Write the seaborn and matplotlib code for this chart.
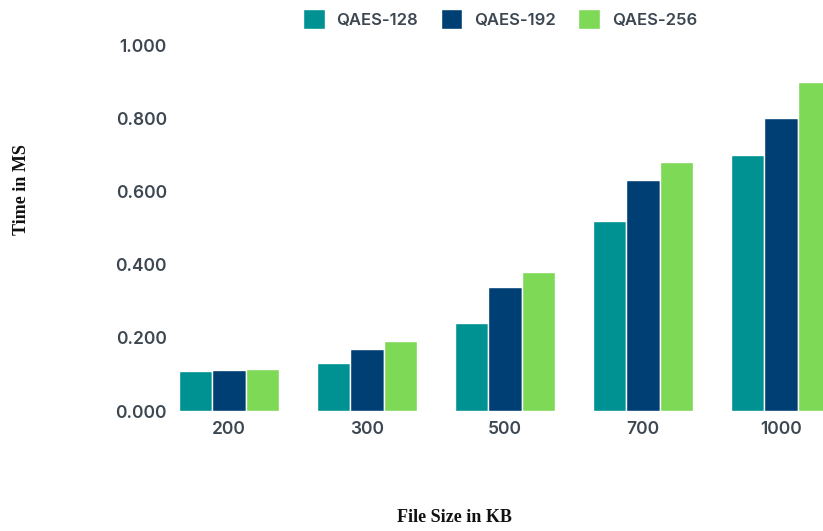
import matplotlib
matplotlib.use("Agg")
import matplotlib.pyplot as plt
import seaborn as sns
import pandas as pd

categories = ["200", "300", "500", "700", "1000"]
series_names = ["QAES-128", "QAES-192", "QAES-256"]
qaes_128 = [0.110, 0.130, 0.240, 0.520, 0.700]
qaes_192 = [0.113, 0.170, 0.340, 0.630, 0.800]
qaes_256 = [0.116, 0.190, 0.380, 0.680, 0.900]
y_ticks = [0.0, 0.2, 0.4, 0.6, 0.8, 1.0]
y_tick_labels = ["0.000", "0.200", "0.400", "0.600", "0.800", "1.000"]
colors = ["#009193", "#003f73", "#7ed957"]

rows = []
for name, vals in zip(series_names, [qaes_128, qaes_192, qaes_256]):
    for c, v in zip(categories, vals):
        rows.append({"size": c, "series": name, "time": v})
df = pd.DataFrame(rows)

sns.set_theme(style="white")
plt.rcParams["font.family"] = ["Inter", "DejaVu Sans"]

W, H = 823, 531
fig = plt.figure(figsize=(W / 100, H / 100), dpi=100)
ax_left, ax_right = 160, 823
ax_top, ax_bottom = 45, 411
ax = fig.add_axes([ax_left / W, (H - ax_bottom) / H, (ax_right - ax_left) / W, (ax_bottom - ax_top) / H])

sns.barplot(data=df, x="size", y="time", hue="series", order=categories,
            hue_order=series_names, palette=colors, width=0.73, saturation=1,
            edgecolor="white", linewidth=1.0, ax=ax, legend=True)

ax.set_xlim(-0.5, (823 - 229) / 138)
ax.set_ylim(0, 1.0)
ax.set_yticks(y_ticks)
ax.set_yticklabels(y_tick_labels)
for s in ax.spines.values():
    s.set_visible(False)
ax.tick_params(axis="both", length=0, labelsize=12.5, labelcolor="#3c4752")
ax.tick_params(axis="x", pad=7)
ax.tick_params(axis="y", pad=-5)
for lbl in ax.get_xticklabels() + ax.get_yticklabels():
    lbl.set_fontweight("semibold")

ax.set_xlabel("")
ax.set_ylabel("")
fig.text(22 / W, 1 - 190 / H, "Time in MS", rotation=90, ha="center", va="center",
         family="Liberation Serif", fontweight="bold", fontsize=13, color="#111111")
fig.text(454 / W, 1 - 518 / H, "File Size in KB", ha="center", va="center",
         family="Liberation Serif", fontweight="bold", fontsize=13, color="#111111")

handles, labels = ax.get_legend_handles_labels()
ax.get_legend().remove()
leg = fig.legend(handles, labels, loc="center", bbox_to_anchor=(500 / W, 1 - 19 / H),
                 ncol=3, frameon=False, handlelength=1.3, handleheight=1.4,
                 handletextpad=0.7, columnspacing=1.35,
                 prop={"family": "Inter", "weight": "semibold", "size": 12})
for t in leg.get_texts():
    t.set_color("#3c4752")

fig.savefig("out.png", dpi=100)
